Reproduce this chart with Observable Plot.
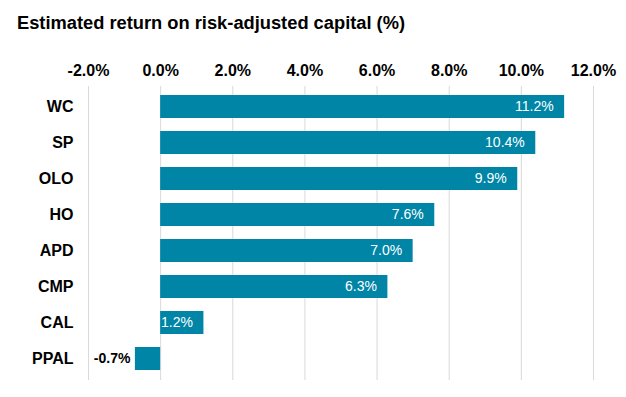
<!DOCTYPE html>
<html><head><meta charset="utf-8">
<script src="https://cdn.jsdelivr.net/npm/d3@7"></script>
<script src="https://cdn.jsdelivr.net/npm/@observablehq/plot@0.6"></script>
<style>
body{margin:0;background:#fff;font-family:"Liberation Sans",Arial,sans-serif;}
#wrap{position:relative;width:626px;height:397px;}
#title{position:absolute;left:17px;top:12px;font-size:18.3px;font-weight:bold;color:#000;white-space:nowrap;}
</style></head>
<body><div id="wrap"><div id="title">Estimated return on risk-adjusted capital (%)</div><div id="chart"></div></div>
<script>
const categories = ["WC","SP","OLO","HO","APD","CMP","CAL","PPAL"];
const values = [11.2,10.4,9.9,7.6,7.0,6.3,1.2,-0.7];
const xTicks = [-2,0,2,4,6,8,10,12];
const data = categories.map((c,i)=>({cat:c,val:values[i]}));
const fmt = v => v.toFixed(1) + "%";
const chart = Plot.plot({
  width:626, height:397,
  marginTop:86, marginBottom:17, marginLeft:88, marginRight:33,
  style:{fontFamily:"'Liberation Sans', Arial, sans-serif", fontSize:"14px", background:"transparent"},
  x:{domain:[-2,12], ticks:xTicks, tickFormat:fmt, axis:null},
  y:{domain:categories, paddingInner:0.35, paddingOuter:0.175, axis:null},
  marks:[
    Plot.ruleX(xTicks,{stroke:"#d9d9d9", strokeWidth:1}),
    Plot.barX(data,{x1:0, x2:"val", y:"cat", fill:"#0085A7"}),
    Plot.axisX({anchor:"top", ticks:xTicks, tickFormat:fmt, tickSize:0, tickPadding:11, fontWeight:"bold", fontSize:16, label:null}),
    Plot.axisY({anchor:"left", tickSize:0, tickPadding:15, fontWeight:"bold", fontSize:16, label:null}),
    Plot.text(data.filter(d=>d.val>=0),{x:"val", y:"cat", text:d=>fmt(d.val), textAnchor:"end", dx:-11, fill:"white", fontSize:14}),
    Plot.text(data.filter(d=>d.val<0),{x:"val", y:"cat", text:d=>fmt(d.val), textAnchor:"end", dx:-5, fill:"black", fontWeight:"bold", fontSize:14})
  ]
});
document.getElementById("chart").appendChild(chart);
</script></body></html>
